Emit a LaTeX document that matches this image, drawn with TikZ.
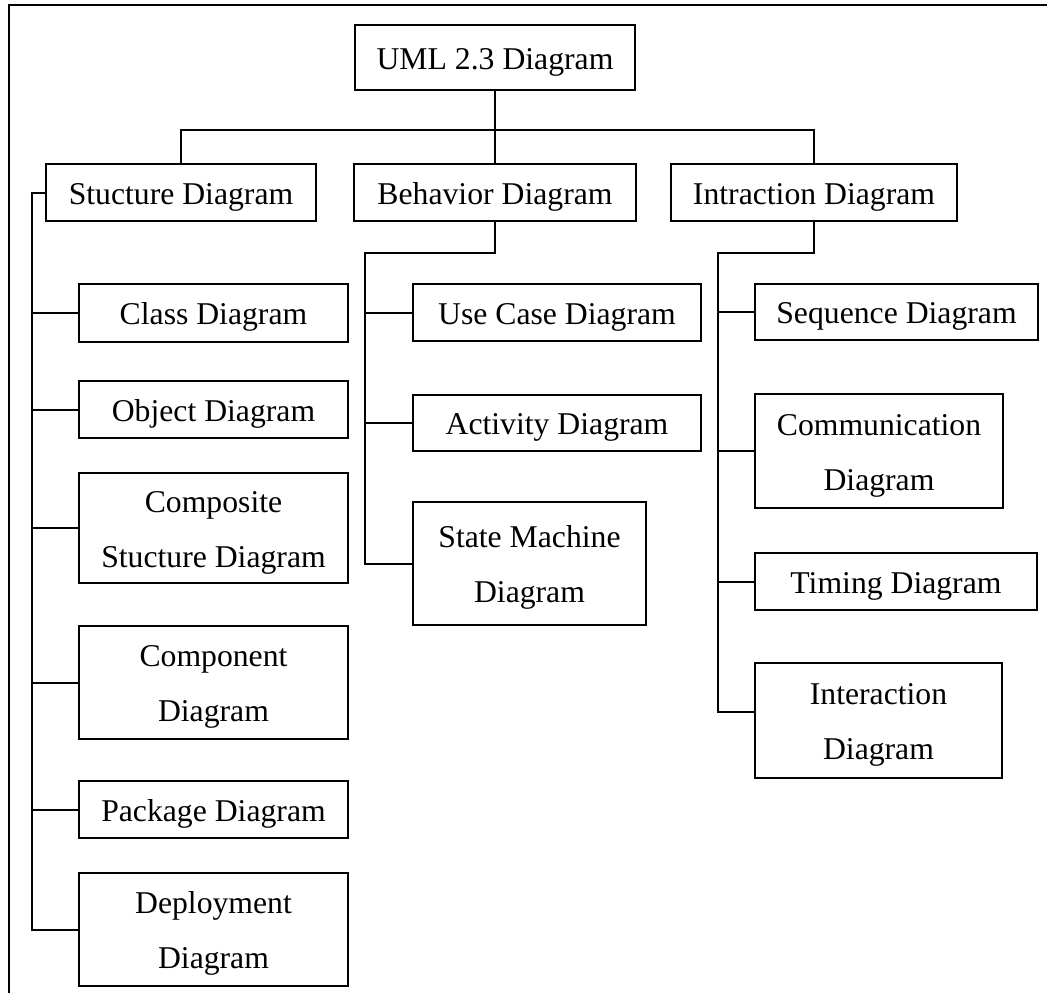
\documentclass[tikz,border=0pt]{standalone}
\usepackage{fontspec}
\setmainfont{Liberation Serif}
% taller first line so labels sit a little low in their boxes
\newcommand{\lowstrut}{\rule{0pt}{30pt}}
\begin{document}
\begin{tikzpicture}[x=1pt,y=-1pt,
  line width=2pt,
  box/.style={draw, line width=2pt, inner sep=0pt, align=center,
    font=\fontsize{31.7}{55}\selectfont},
  link/.style={draw, line width=2pt}]
\useasboundingbox (0,0) rectangle (1047,993);

% page frame (top and left edges)
\draw (1047,5) -- (9,5) -- (9,993);

% root and first level
\node[box, minimum width=280pt, minimum height=65pt] (root) at (495,57.5) {\lowstrut UML 2.3 Diagram};
\node[box, minimum width=270pt, minimum height=57pt] (struct) at (181,192.5) {\lowstrut Stucture Diagram};
\node[box, minimum width=282pt, minimum height=57pt] (behav) at (495,192.5) {\lowstrut Behavior Diagram};
\node[box, minimum width=286pt, minimum height=57pt] (inter) at (814,192.5) {\lowstrut Intraction Diagram};

% structure diagrams
\node[box, minimum width=269pt, minimum height=58pt] (class) at (213.5,313) {\lowstrut Class Diagram};
\node[box, minimum width=269pt, minimum height=57pt] (object) at (213.5,409.5) {\lowstrut Object Diagram};
\node[box, minimum width=269pt, minimum height=110pt] (composite) at (213.5,528) {\lowstrut Composite\\Stucture Diagram};
\node[box, minimum width=269pt, minimum height=113pt] (component) at (213.5,682.5) {\lowstrut Component\\Diagram};
\node[box, minimum width=269pt, minimum height=57pt] (package) at (213.5,809.5) {\lowstrut Package Diagram};
\node[box, minimum width=269pt, minimum height=113pt] (deploy) at (213.5,929.5) {\lowstrut Deployment\\Diagram};

% behavior diagrams
\node[box, minimum width=288pt, minimum height=57pt] (usecase) at (557,312.5) {\lowstrut Use Case Diagram};
\node[box, minimum width=288pt, minimum height=56pt] (activity) at (557,423) {\lowstrut Activity Diagram};
\node[box, minimum width=233pt, minimum height=123pt] (state) at (529.5,563.5) {\lowstrut State Machine\\Diagram};

% interaction diagrams
\node[box, minimum width=283pt, minimum height=56pt] (sequence) at (896.5,312) {\lowstrut Sequence Diagram};
\node[box, minimum width=248pt, minimum height=114pt] (communication) at (879,451) {\lowstrut Communication\\Diagram};
\node[box, minimum width=282pt, minimum height=57pt] (timing) at (896,581.5) {\lowstrut Timing Diagram};
\node[box, minimum width=247pt, minimum height=115pt] (interaction) at (878.5,720.5) {\lowstrut Interaction\\Diagram};

% junction points
\coordinate (bar) at (495,130);
\coordinate (sspine) at (32,192.5);
\coordinate (bspine) at (365,253);
\coordinate (ispine) at (718,253);

% first level links
\path[link] (root.south) -- (bar);
\path[link] (struct.north) |- (bar) -| (inter.north);
\path[link] (bar) -- (behav.north);

% structure branch
\path[link] (struct.west) -- (sspine) |- (deploy.west);
\foreach \n in {class,object,composite,component,package}
  \path[link] (\n.west) -- (\n.west -| sspine);

% behavior branch
\path[link] (behav.south) |- (bspine) |- (state.west);
\foreach \n in {usecase,activity}
  \path[link] (\n.west) -- (\n.west -| bspine);

% interaction branch
\path[link] (inter.south) |- (ispine) |- ([yshift=8.5pt]interaction.west);
\foreach \n in {sequence,communication,timing}
  \path[link] (\n.west) -- (\n.west -| ispine);
\end{tikzpicture}
\end{document}
